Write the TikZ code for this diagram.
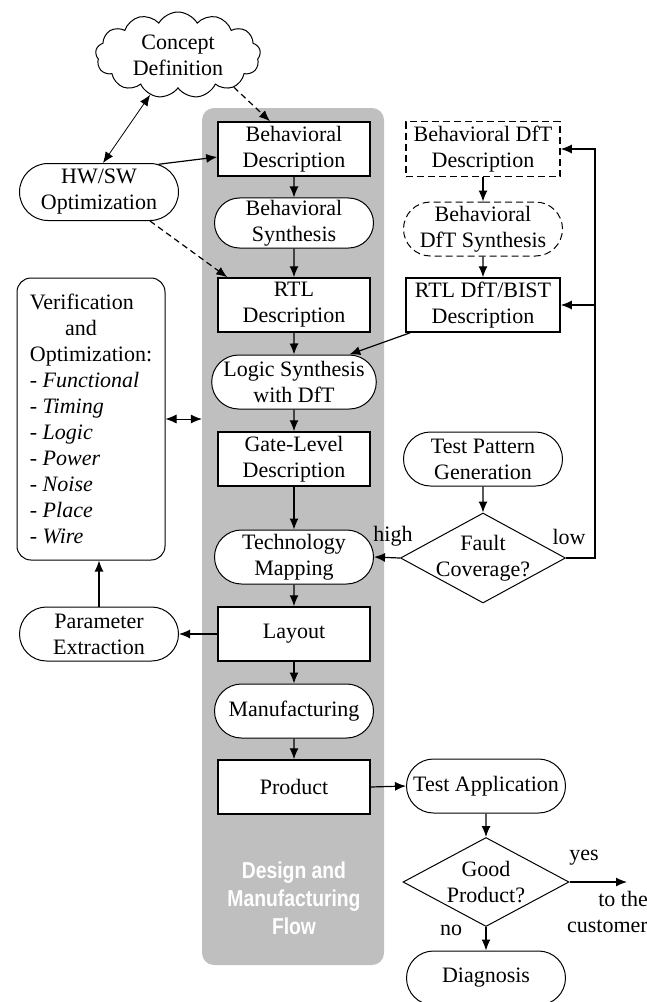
\documentclass[tikz,border=0pt]{standalone}
\usepackage{fontspec}
\setmainfont{Liberation Serif}
\newfontfamily\flowfont[FakeStretch=0.84]{Liberation Sans}
\usepackage{xcolor}
\usepackage{tikz}
\usetikzlibrary{shapes.geometric,shapes.misc,shapes.symbols,arrows.meta,positioning,calc}

\begin{document}
\begin{tikzpicture}[x=1pt, y=-1pt, font=\fontsize{22}{26}\selectfont,
  box/.style={draw, line width=1.5pt, fill=white, minimum width=152pt, minimum height=54pt, align=center, inner sep=2pt},
  oval/.style={draw, line width=1pt, fill=white, rounded rectangle, minimum width=163pt, minimum height=54pt, align=center, inner sep=2pt},
  dft/.style={dash pattern=on 7pt off 4pt},
  decision/.style={draw, line width=1pt, fill=white, diamond, minimum width=165pt, minimum height=90pt, inner sep=-14pt, align=center},
  arr/.style={-{Latex[length=11pt, width=9pt]}, line width=1.2pt},
  dasharr/.style={arr, dash pattern=on 6pt off 4pt},
  dblarr/.style={{Latex[length=11pt, width=9pt]}-{Latex[length=11pt, width=9pt]}, line width=0.8pt}
]
\useasboundingbox (0,0) rectangle (647,1002);
% Column positions
\def\xl{99} \def\xm{294} \def\xr{483} \def\xb{486}

% Design and manufacturing flow (gray band)
\node (flowbg) [fill=gray!50, rounded corners=12pt, minimum width=182pt, minimum height=857pt] at (293,536.5) {};
\node (flowtxt) [text=white, align=center, font=\flowfont\bfseries\fontsize{23}{28}\selectfont] at (\xm,898)
  {Design and\\Manufacturing\\Flow};

% Main flow
\node[box]  (bdesc)   at (\xm,149) {Behavioral\\Description};
\node[oval, minimum height=50pt] (bsyn) at (\xm,223) {Behavioral\\Synthesis};
\node[box]  (rtl)     at (\xm,305) {RTL\\Description};
\node[oval] (logic)   at (\xm,382) {Logic Synthesis\\with DfT};
\node[box]  (gate)    at (\xm,459) {Gate-Level\\Description};
\node[oval] (tech)    at (\xm,557) {Technology\\Mapping};
\node[box]  (layout)  at (\xm,634) {Layout};
\node[oval] (manuf)   at (\xm,711) {Manufacturing};
\node[box]  (product) at (\xm,787) {Product};

% Left side
\node[cloud, draw, line width=1pt, fill=white, cloud puffs=13, cloud puff arc=120, aspect=2,
  minimum width=165pt, minimum height=86pt, inner sep=0pt, align=center] (concept) at (178,55) {Concept\\Definition};
\node[oval, minimum height=57pt] (hwsw) at (\xl,192) {HW/SW\\Optimization};
\node[draw, line width=1pt, rounded corners=14pt, minimum width=148pt, minimum height=282pt, align=left] (verif) at (91,419)
  {Verification\\\hspace*{1.6em}and\\Optimization:\\- \textit{Functional}\\- \textit{Timing}\\- \textit{Logic}\\- \textit{Power}\\- \textit{Noise}\\- \textit{Place}\\- \textit{Wire}};
\node[oval] (param) at (\xl,634) {Parameter\\Extraction};

% DfT side
\node[box, dft, minimum width=154pt, minimum height=55pt] (bdft) at (\xr,149) {Behavioral DfT\\Description};
\node[oval, dft] (bdftsyn) at (\xr,229) {Behavioral\\DfT Synthesis};
\node[box, minimum width=154pt] (rtldft) at (\xr,305) {RTL DfT/BIST\\Description};
\node[oval] (tpg) at (\xr,459) {Test Pattern\\Generation};
\node[decision] (fault) at (\xr,558) {Fault\\Coverage?};
\node (high) at (393,536) {high};
\node (low)  at (569,537) {low};
\coordinate (fbtop) at (595,149);
\coordinate (fbmid) at (595,305);

% Test side
\node[oval] (testapp) at (\xb,786) {Test Application};
\node[decision, minimum width=166pt, minimum height=89pt] (good) at (\xb,882) {Good\\Product?};
\node[oval] (diag) at (\xb,978) {Diagnosis};
\coordinate (cust) at (627,882);
\node (yes) at (584,858) {yes};
\node[align=right, anchor=east, inner sep=0pt] (custtxt) at (648,912) {to the\\customer};
\node (no) at (451,930) {no};

% Connectors
\foreach \a/\b in {bdesc/bsyn, bsyn/rtl, rtl/logic, logic/gate, gate/tech, tech/layout, layout/manuf, manuf/product}
  \draw[arr] (\a) -- (\b);
\draw[dblarr] (concept.235) -- ([xshift=4pt]hwsw.north);
\draw[dasharr] (concept.330) -- ([xshift=-24pt]bdesc.north);
\draw[arr] (hwsw.25) -- ([yshift=-8pt]bdesc.west);
\draw[dasharr] (hwsw.south east) -- ([xshift=10pt]rtl.north west);
\draw[dblarr] (verif.east) -- (flowbg.west |- verif.east);
\draw[arr] (layout.west) -- (param.east);
\draw[arr] (param.north) -- (param.north |- verif.south);
\draw[arr] (bdft) -- (bdftsyn);
\draw[arr] (bdftsyn) -- (rtldft);
\draw[arr] ([xshift=5pt]rtldft.south west) -- (logic.north east);
\draw[arr] (tpg) -- (fault);
\draw[arr] (fault.west) -- (tech.east);
\draw[arr] (fault.east) -| (fbtop) -- (bdft.east);
\draw[arr] (fbmid) -- (rtldft.east);
\draw[arr] (product.east) -- (testapp.west);
\draw[arr] (testapp) -- (good);
\draw[arr] (good) -- (diag);
\draw[arr] (good.east) -- (cust);
\end{tikzpicture}
\end{document}
